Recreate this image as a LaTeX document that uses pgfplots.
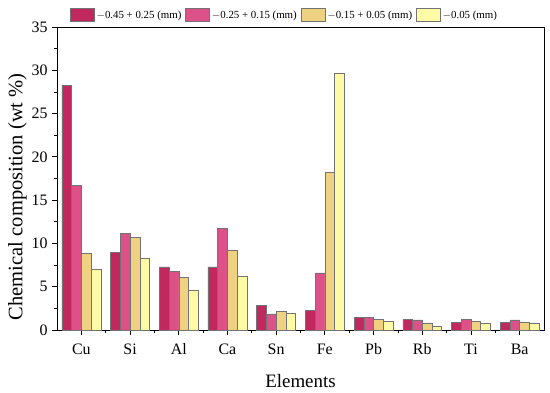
\documentclass[border=0pt]{standalone}
\usepackage{fontspec}
\setmainfont{Liberation Serif}
\usepackage{pgfplots}
\pgfplotsset{compat=1.18}
\definecolor{cA}{RGB}{192,40,94}
\definecolor{cB}{RGB}{220,82,136}
\definecolor{cC}{RGB}{238,210,130}
\definecolor{cD}{RGB}{255,250,165}
\begin{document}
\begin{tikzpicture}
\begin{axis}[
  scale only axis, width=487bp, height=303bp,
  ybar, bar width=0.2,
  xmin=-0.5, xmax=9.5, ymin=0, ymax=35,
  xtick={0,...,9},
  xticklabels={Cu,Si,Al,Ca,Sn,Fe,Pb,Rb,Ti,Ba},
  minor xtick={0.5,1.5,...,8.5},
  ytick={0,5,...,35}, minor ytick={2.5,7.5,...,32.5},
  tick pos=left, tick align=outside,
  major tick length=5bp, minor tick length=3bp,
  every tick/.style={black, line width=0.8pt},
  axis line style={line width=0.8pt},
  ticklabel style={font=\fontsize{16}{18}\selectfont},
  xticklabel style={yshift=-5bp, text height=11bp, text depth=0pt},
  yticklabel style={xshift=-1bp},
  /pgf/number format/assume math mode=true,
  xlabel={Elements}, ylabel={Chemical composition (wt \%)},
  xlabel style={font=\fontsize{19}{21}\selectfont, yshift=-13bp},
  ylabel style={font=\fontsize{20.6}{23}\selectfont, at={(ticklabel cs:0.44)}, yshift=-2bp},
  legend columns=4,
  legend style={at={(0.5,1.01)}, anchor=south, xshift=-16bp, draw=none, fill=none,
    font=\fontsize{10.9}{13}\selectfont,
    /tikz/every even column/.append style={column sep=2bp}},
  legend image code/.code={\draw[#1] (0bp,-6.5bp) rectangle (24bp,6.5bp);},
  every axis plot/.append style={draw=black!55, line width=0.5pt},
]
\addplot[fill=cA, draw=black!55, bar shift=-0.3] coordinates {(0,28.3) (1,8.93) (2,7.28) (3,7.28) (4,2.82) (5,2.3) (6,1.42) (7,1.27) (8,0.92) (9,0.89)};
\addplot[fill=cB, draw=black!55, bar shift=-0.1] coordinates {(0,16.7) (1,11.13) (2,6.74) (3,11.74) (4,1.87) (5,6.6) (6,1.42) (7,1.16) (8,1.23) (9,1.16)};
\addplot[fill=cC, draw=black!55, bar shift=0.1] coordinates {(0,8.86) (1,10.7) (2,6.08) (3,9.16) (4,2.11) (5,18.25) (6,1.2) (7,0.81) (8,1.0) (9,0.89)};
\addplot[fill=cD, draw=black!55, bar shift=0.3] coordinates {(0,6.97) (1,8.24) (2,4.62) (3,6.24) (4,1.9) (5,29.7) (6,1.0) (7,0.39) (8,0.73) (9,0.73)};
\legend{$-$0.45 + 0.25 (mm), $-$0.25 + 0.15 (mm), $-$0.15 + 0.05 (mm), $-$0.05 (mm)}
\end{axis}
\useasboundingbox ([xshift=-57bp,yshift=-63bp]current axis.south west) rectangle ([xshift=6bp,yshift=27bp]current axis.north east);
\end{tikzpicture}
\end{document}
